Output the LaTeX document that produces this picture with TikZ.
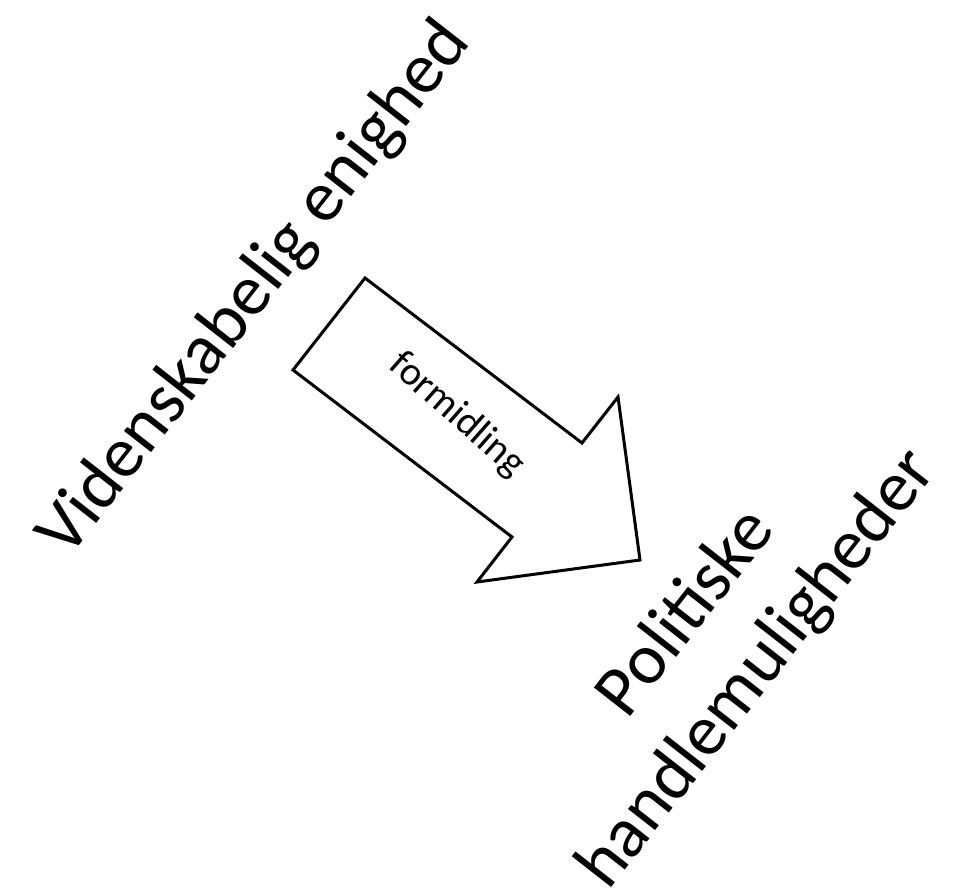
\documentclass[tikz,border=0pt]{standalone}
\usepackage{fontspec}
\setmainfont{Carlito}
\usepackage{tikz}
\usetikzlibrary{calc}

\tikzset{
  bigtext/.style={font=\fontsize{72}{90}\selectfont, rotate=52, inner sep=0pt, anchor=base},
  smalltext/.style={font=\fontsize{40}{48}\selectfont, rotate=-41.5, inner sep=0pt},
  arrowline/.style={draw=black, line width=3pt, fill=white}
}

\begin{document}
\begin{tikzpicture}[x=1pt,y=-1pt]
      \useasboundingbox (0,0) rectangle (953,896);

      % the big block arrow
      \coordinate (tailtop) at (365,278);
      \coordinate (notchup) at (582,443);
      \coordinate (barbup) at (618,397);
      \coordinate (tip) at (640,560);
      \coordinate (barblow) at (477,582);
      \coordinate (notchlow) at (512,537);
      \coordinate (tailbot) at (293,370);

      \draw[arrowline] (tailtop) -- (notchup) -- (barbup) -- (tip)
        -- (barblow) -- (notchlow) -- (tailbot) -- cycle;

      \node[smalltext] (form) at (457,415) {formidling};

      \node[bigtext] (enighed) at (270,301) {Videnskabelig enighed};
      \node[bigtext] (politik) at (702,625) {Politiske};
      \node[bigtext] (handle) at (773,681) {handlemuligheder};
    \end{tikzpicture}
\end{document}
